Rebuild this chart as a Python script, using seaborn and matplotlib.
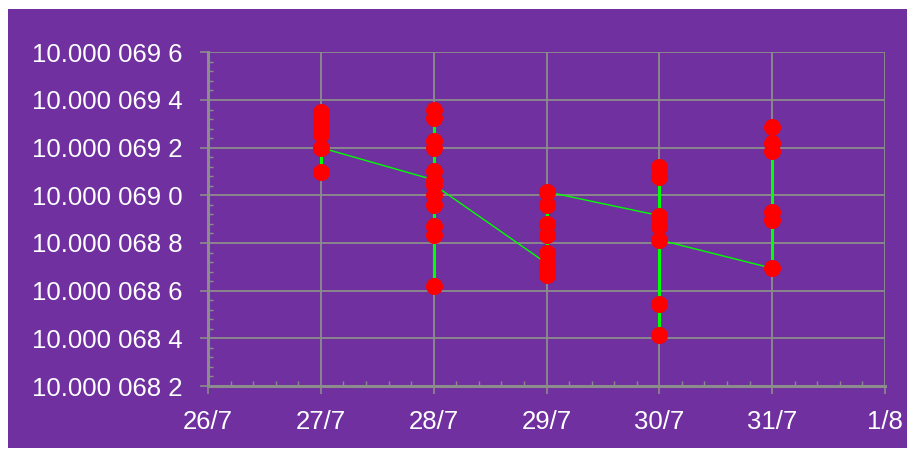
import matplotlib
matplotlib.use("Agg")
import matplotlib.pyplot as plt
import seaborn as sns
import pandas as pd
from matplotlib.ticker import FixedLocator, AutoMinorLocator, FuncFormatter
from matplotlib.patches import Rectangle

# ---- data ----
x_labels = ["26/7", "27/7", "28/7", "29/7", "30/7", "31/7", "1/8"]
measured_days = ["27/7", "28/7", "29/7", "30/7", "31/7"]
jul27 = [10.00006935, 10.000069316, 10.000069288, 10.000069257, 10.000069097, 10.0000692]
jul28 = [10.000069065, 10.00006936, 10.000069323, 10.000069229, 10.000069197, 10.0000691,
         10.0000690, 10.00006896, 10.000068873, 10.000068834, 10.00006862, 10.000069045]
jul29 = [10.000068715, 10.000068695, 10.000068665, 10.00006876, 10.000068834, 10.00006888,
         10.00006896, 10.000069015]
jul30 = [10.000068915, 10.00006912, 10.000069078, 10.000068871, 10.000068543, 10.000068413,
         10.000068813]
jul31 = [10.000068694, 10.000068896, 10.000068931, 10.000069187, 10.000069218, 10.000069288]
y_ticks = [10.0000682, 10.0000684, 10.0000686, 10.0000688, 10.0000690, 10.0000692,
           10.0000694, 10.0000696]

groups = [jul27, jul28, jul29, jul30, jul31]
rows = []
for day, vals in zip(measured_days, groups):
    for v in vals:
        rows.append({"x": x_labels.index(day), "value": v})
df = pd.DataFrame(rows)

# ---- styling ----
PURPLE = "#7030A0"
GRID = "#8C8C8C"
sns.set_style("white")
plt.rcParams["font.family"] = ["Liberation Sans", "DejaVu Sans"]

fig = plt.figure(figsize=(9.15, 4.57), dpi=100)
fig.patch.set_facecolor("white")
fig.patches.append(Rectangle((8 / 915, 1 - 448 / 457), (907 - 8) / 915, (448 - 9) / 457,
                             transform=fig.transFigure, facecolor=PURPLE,
                             edgecolor="none", zorder=-10))
ax = fig.add_axes([208 / 915, 1 - 386 / 457, (885 - 208) / 915, (386 - 52.3) / 457])
ax.set_zorder(1)
ax.set_facecolor(PURPLE)

# vertical range lines per day
rng = df.groupby("x")["value"].agg(["min", "max"]).reset_index()
ax.vlines(rng["x"], rng["min"], rng["max"], colors="#00FF00", linewidth=2.2, zorder=3)

# connecting line in measurement order
sns.lineplot(data=df, x="x", y="value", sort=False, estimator=None, color="#00FF00",
             linewidth=1.0, ax=ax, zorder=3)
sns.scatterplot(data=df, x="x", y="value", color="#FF0000", s=150, linewidth=0,
                ax=ax, zorder=4)

ax.set_xlim(0, len(x_labels) - 1)
ax.set_ylim(y_ticks[0], y_ticks[-1])
ax.xaxis.set_major_locator(FixedLocator(range(len(x_labels))))
ax.set_xticklabels(x_labels)
ax.yaxis.set_major_locator(FixedLocator(y_ticks))


def fmt(v, pos):
    s = f"{v:.7f}"
    ip, dec = s.split(".")
    return ip + "." + " ".join(dec[i:i + 3] for i in range(0, len(dec), 3))


ax.yaxis.set_major_formatter(FuncFormatter(fmt))
ax.xaxis.set_minor_locator(AutoMinorLocator(5))
ax.yaxis.set_minor_locator(AutoMinorLocator(5))

ax.grid(True, which="major", color=GRID, linewidth=1.3, zorder=1)
ax.set_axisbelow(True)
for side in ["top", "right"]:
    ax.spines[side].set_visible(False)
for side in ["left", "bottom"]:
    ax.spines[side].set_color(GRID)
    ax.spines[side].set_linewidth(2.2)

ax.tick_params(which="major", direction="out", length=6, width=1.2, color=GRID,
               labelcolor="white", labelsize=18.5, left=True, bottom=True)
ax.tick_params(axis="y", which="major", pad=12)
ax.tick_params(axis="x", which="major", pad=11)
ax.tick_params(which="minor", direction="in", length=3.5, width=1, color=GRID,
               left=True, bottom=True)
ax.set_xlabel("")
ax.set_ylabel("")

fig.savefig("out.png", dpi=100, facecolor=fig.get_facecolor())
